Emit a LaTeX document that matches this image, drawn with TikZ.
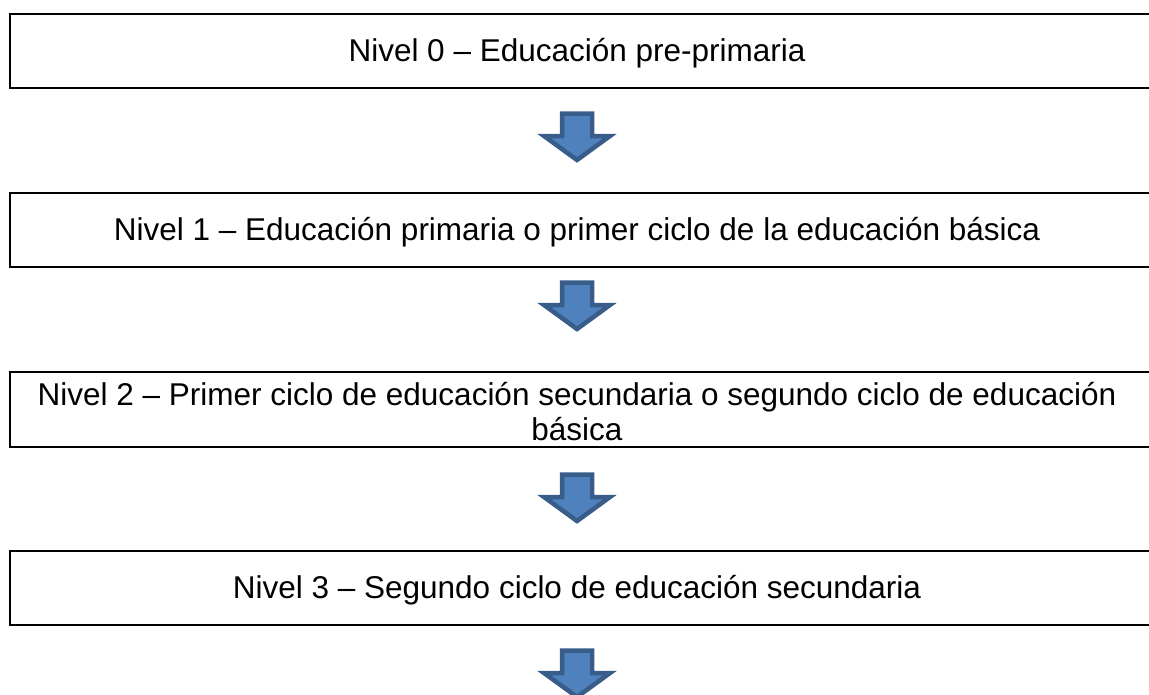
\documentclass[tikz,border=0pt]{standalone}
\usepackage{fontspec}
\setmainfont{Liberation Sans}
\definecolor{arrfill}{HTML}{4F81BD}
\definecolor{arrline}{HTML}{385D8A}
\tikzset{
  frame/.style={draw=black, line width=2.2pt},
  lbl/.style={font=\fontsize{31.5}{35}\selectfont, inner sep=0pt, align=center},
  blockarrow/.pic={
    \path[fill=arrfill, draw=arrline, line width=4.5pt, line join=miter]
      (-15,2.5) -- (15,2.5) -- (15,25) -- (33,25) -- (0,49) -- (-33,25) -- (-15,25) -- cycle;
  }
}
\begin{document}
\begin{tikzpicture}[x=1pt,y=-1pt]
\useasboundingbox (0,0) rectangle (1149,694);
% boxes
\draw[frame] (10,14) rectangle (1170,88);
\node[lbl] (t0) at (577,53) {Nivel 0 – Educación pre-primaria};
\draw[frame] (10,193) rectangle (1170,267);
\node[lbl] (t1) at (577,232) {Nivel 1 – Educación primaria o primer ciclo de la educación básica};
\draw[frame] (10,372) rectangle (1170,447);
\node[lbl] (t2) at (577,412) {Nivel 2 – Primer ciclo de educación secundaria o segundo ciclo de educación\\básica};
\draw[frame] (10,551) rectangle (1170,625);
\node[lbl] (t3) at (577,590) {Nivel 3 – Segundo ciclo de educación secundaria};
% arrows
\coordinate (a0) at (577,111);
\coordinate (a1) at (577,280);
\coordinate (a2) at (577,472);
\coordinate (a3) at (577,648);
\pic at (a0) {blockarrow};
\pic at (a1) {blockarrow};
\pic at (a2) {blockarrow};
\pic at (a3) {blockarrow};
\end{tikzpicture}
\end{document}
